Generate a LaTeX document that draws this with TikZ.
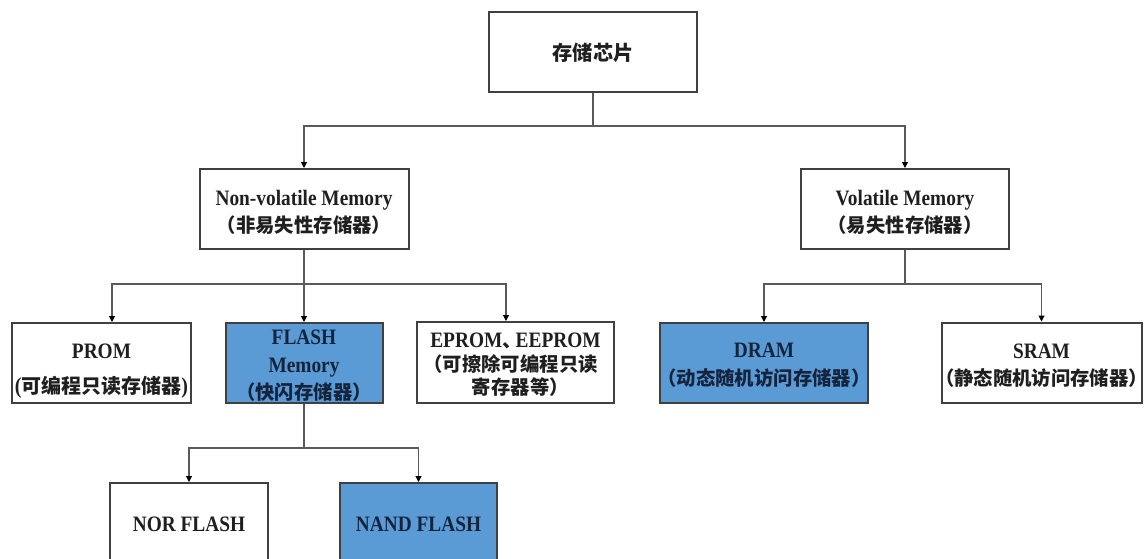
\documentclass[tikz,border=0pt]{standalone}
\usepackage{fontspec}
\setmainfont{Liberation Serif}[FakeStretch=0.88]
\newfontfamily\cjk[Scale=0.88,RawFeature=+halt]{Noto Sans CJK SC}
\usetikzlibrary{arrows.meta}
\definecolor{boxblue}{HTML}{5B9BD5}
\definecolor{edgegray}{HTML}{404040}
\definecolor{conngray}{HTML}{5A5A5A}
\definecolor{navytext}{HTML}{15243D}
\tikzset{
  box/.style={draw=edgegray, line width=2pt, rectangle, align=center, inner sep=0pt,
    font=\bfseries\fontsize{22}{27.5}\selectfont, text=black!88},
  bluebox/.style={box, fill=boxblue, text=navytext},
  conn/.style={draw=conngray, line width=1.1pt},
  arr/.style={conn, -{Triangle[length=6pt,width=6pt,color=black]}}
}
\begin{document}
\begin{tikzpicture}[x=1pt,y=-1pt]
\useasboundingbox (0,0) rectangle (1145,559);
\clip (0,0) rectangle (1145,559);
% boxes
\node[box, minimum width=208pt, minimum height=80pt, font=\bfseries\fontsize{23}{28}\selectfont] (top) at (593,52) {\rule{0pt}{20pt}\cjk 存储芯片};
\node[box, minimum width=209pt, minimum height=80pt] (nv) at (304,209) {\rule{0pt}{22pt}Non-volatile Memory\\{\cjk （非易失性存储器）}};
\node[box, minimum width=208pt, minimum height=80pt] (vm) at (905,209) {\rule{0pt}{22pt}Volatile Memory\\{\cjk （易失性存储器）}};
\node[box, minimum width=179pt, minimum height=80pt, font=\bfseries\fontsize{22}{35}\selectfont] (prom) at (101.5,363) {\rule{0pt}{30pt}PROM\\{\fontsize{22.7}{35}\selectfont(\cjk 可编程只读存储器\rmfamily)}};
\node[bluebox, minimum width=157pt, minimum height=80pt] (flash) at (304,363) {\rule{0pt}{20pt}FLASH\\Memory\\{\cjk （快闪存储器）}};
\node[box, minimum width=197pt, minimum height=81pt, font=\bfseries\fontsize{22}{23.5}\selectfont] (eprom) at (515.5,362.5) {\rule{0pt}{19pt}EPROM{\cjk 、}\,EEPROM\\{\cjk （可擦除可编程只读}\\{\cjk 寄存器等）}};
\node[bluebox, minimum width=208pt, minimum height=80pt] (dram) at (764,363) {\rule{0pt}{19pt}DRAM\\{\cjk （动态随机访问存储器）}};
\node[box, minimum width=200pt, minimum height=80pt] (sram) at (1041.5,362.5) {\rule{0pt}{21pt}SRAM\\{\cjk （静态随机访问存储器）}};
\node[box, minimum width=158pt, minimum height=82pt] (nor) at (189,524) {NOR FLASH};
\node[bluebox, minimum width=157pt, minimum height=82pt] (nand) at (418.5,524) {NAND FLASH};
% connectors
\coordinate (j1) at (593,126);
\coordinate (j2) at (304,284);
\coordinate (j3) at (905,284);
\coordinate (j4) at (304,448);
\draw[conn] (top.south) -- (j1);
\draw[arr] (j1) -| (nv.north);
\draw[arr] (j1) -| (vm.north);
\draw[conn] (nv.south) -- (j2);
\draw[arr] (j2) -- (flash.north);
\draw[arr] (j2) -| ([xshift=10.5pt]prom.north);
\draw[arr] (j2) -| ([xshift=-9.5pt]eprom.north);
\draw[conn] (vm.south) -- (j3);
\draw[arr] (j3) -| (dram.north);
\draw[arr] (j3) -| (sram.north);
\draw[conn] (flash.south) -- (j4);
\draw[arr] (j4) -| (nor.north);
\draw[arr] (j4) -| (nand.north);
\end{tikzpicture}
\end{document}
